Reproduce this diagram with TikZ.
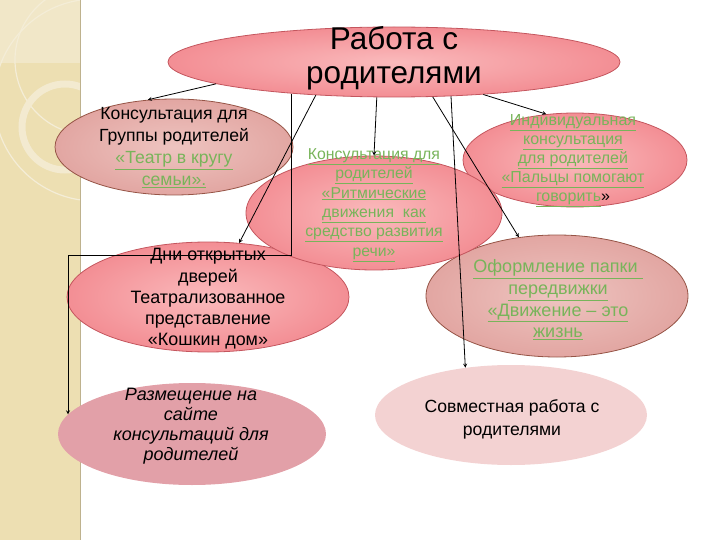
\documentclass[tikz,border=0pt]{standalone}
\usepackage{fontspec}
\setmainfont{Liberation Sans}
\usetikzlibrary{shapes.geometric}

\definecolor{stripbeige}{RGB}{237,223,178}
\definecolor{ringbeige}{RGB}{244,237,215}
\definecolor{pinklight}{RGB}{250,186,188}
\definecolor{brightpink}{RGB}{243,142,148}
\definecolor{brightedge}{RGB}{196,86,94}
\definecolor{duskylight}{RGB}{238,196,192}
\definecolor{duskypink}{RGB}{226,166,162}
\definecolor{duskyedge}{RGB}{150,84,70}
\definecolor{sitepink}{RGB}{226,160,168}
\definecolor{palepink}{RGB}{243,210,210}
\definecolor{linkgreen}{RGB}{120,180,90}

\newcommand{\lnk}[1]{\textcolor{linkgreen}{\underline{#1}}}

\begin{document}
\begin{tikzpicture}[x=1pt, y=-1pt, >=stealth,
  pinkblob/.style={ellipse, draw=brightedge, line width=0.8pt, inner color=pinklight, outer color=brightpink},
  duskyblob/.style={ellipse, draw=duskyedge, line width=0.8pt, inner color=duskylight, outer color=duskypink},
  siteblob/.style={ellipse, fill=sitepink},
  paleblob/.style={ellipse, fill=palepink},
  connect/.style={->, line width=0.8pt}]

  \useasboundingbox (0,0) rectangle (720,540);

  % Left strip
  \fill[stripbeige] (0,0) rectangle (80,540);
  \begin{scope}
    \clip (0,0) rectangle (80,540);
    \fill[ringbeige!60!stripbeige] (0,0) rectangle (80,63);
    \draw[ringbeige, line width=1.2pt] (90,60) circle (75pt);
    \draw[ringbeige, line width=1.2pt] (95,100) circle (101pt);
    \draw[ringbeige!80!stripbeige, line width=7pt] (65,127) circle (43pt);
  \end{scope}
  \draw[stripbeige!80!black, line width=0.6pt] (80,0) -- (80,540);

  % Ellipses
  \node[duskyblob, minimum width=238pt, minimum height=96pt] (teatr) at (174,147) {};
  \node[pinkblob, minimum width=224pt, minimum height=94pt] (palcy) at (575,160) {};
  \node[duskyblob, minimum width=262pt, minimum height=122pt] (papka) at (557,296) {};
  \node[pinkblob, minimum width=282pt, minimum height=110pt] (dni) at (208,297) {};
  \node[pinkblob, minimum width=256pt, minimum height=114pt] (ritm) at (374,213) {};
  \node[siteblob, minimum width=268pt, minimum height=102pt] (sajt) at (192,434) {};
  \node[paleblob, minimum width=272pt, minimum height=100pt] (sovm) at (511,415) {};
  \node[pinkblob, minimum width=452pt, minimum height=70pt] (main) at (394,62) {};

  % Texts
  \node[align=center, font={\fontsize{31.5}{34}\selectfont}] (mainText) at (394,58) {Работа с\\родителями};
  \node[align=center, font={\fontsize{17.6}{22}\selectfont}] (teatrText) at (174,148)
    {Консультация для\\Группы родителей\\\lnk{«Театр в кругу}\\\lnk{семьи».}};
  \node[align=center, font={\fontsize{15.8}{19.4}\selectfont}] (ritmText) at (374,205)
    {\lnk{Консультация для}\\\lnk{родителей}\\\lnk{«Ритмические}\\\lnk{движения\ \ как}\\\lnk{средство развития}\\\lnk{речи»}};
  \node[align=center, font={\fontsize{16}{19}\selectfont}] (palcyText) at (573,161)
    {\lnk{Индивидуальная}\\\lnk{консультация}\\\lnk{для родителей}\\\lnk{«Пальцы помогают}\\\lnk{говорить}»};
  \node[align=center, font={\fontsize{17.9}{21.3}\selectfont}] (dniText) at (208,299)
    {Дни открытых\\дверей\\Театрализованное\\представление\\«Кошкин дом»};
  \node[align=center, font={\fontsize{18}{21.7}\selectfont}] (papkaText) at (558,300)
    {\lnk{Оформление папки\ }\\\lnk{передвижки}\\\lnk{«Движение – это}\\\lnk{жизнь}};
  \node[align=center, font={\fontsize{18}{20}\selectfont\itshape}] (sajtText) at (191,426)
    {Размещение на\\сайте\\консультаций для\\родителей};
  \node[align=center, font={\fontsize{17.6}{23}\selectfont}] (sovmText) at (512,419)
    {Совместная работа с\\родителями};

  % Connectors
  \coordinate (bend) at (68,255);
  \draw[connect] (main.187) -- (teatr.119);
  \draw[connect] (main.197) |- (bend) -- (bend |- sajt.171);
  \draw[connect] (main.203) -- (dni.60);
  \draw[connect] (main.244) -- (ritm.90);
  \draw[connect] (main.318) -- (papka.123);
  \draw[connect] (main.329) -- (sovm.134);
  \draw[connect] (main.340) -- (palcy.122);

\end{tikzpicture}
\end{document}
